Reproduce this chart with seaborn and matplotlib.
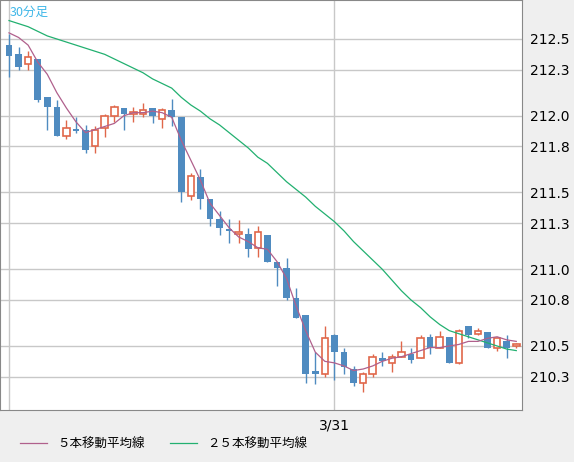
import numpy as np
import pandas as pd
import seaborn as sns
import matplotlib.pyplot as plt
from matplotlib.lines import Line2D

# 30-minute candles
opens = [212.46, 212.40, 212.34, 212.37, 212.12, 212.06, 211.87, 211.91, 211.91, 211.80,
         211.92, 212.00, 212.05, 212.01, 212.01, 212.05, 211.98, 212.04, 211.99, 211.48,
         211.60, 211.46, 211.33, 211.26, 211.23, 211.23, 211.14, 211.22, 211.05, 211.01,
         210.81, 210.70, 210.34, 210.32, 210.57, 210.46, 210.35, 210.26, 210.32, 210.42,
         210.39, 210.43, 210.45, 210.42, 210.56, 210.49, 210.56, 210.39, 210.63, 210.58,
         210.59, 210.49, 210.53, 210.50]
closes = [212.39, 212.32, 212.38, 212.10, 212.06, 211.87, 211.92, 211.90, 211.78, 211.91,
          212.00, 212.06, 212.01, 212.02, 212.04, 212.00, 212.04, 211.99, 211.50, 211.61,
          211.46, 211.33, 211.27, 211.25, 211.24, 211.13, 211.24, 211.05, 211.01, 210.81,
          210.68, 210.32, 210.32, 210.55, 210.46, 210.36, 210.26, 210.32, 210.43, 210.40,
          210.43, 210.46, 210.41, 210.55, 210.49, 210.56, 210.39, 210.60, 210.57, 210.60,
          210.49, 210.55, 210.49, 210.51]
highs = [212.53, 212.45, 212.42, 212.37, 212.12, 212.10, 211.97, 211.99, 211.94, 211.93,
         212.01, 212.07, 212.05, 212.06, 212.08, 212.05, 212.05, 212.11, 211.99, 211.63,
         211.65, 211.46, 211.38, 211.33, 211.32, 211.27, 211.28, 211.22, 211.05, 211.07,
         210.88, 210.70, 210.46, 210.63, 210.58, 210.49, 210.37, 210.33, 210.45, 210.46,
         210.45, 210.53, 210.49, 210.57, 210.58, 210.60, 210.56, 210.61, 210.63, 210.62,
         210.59, 210.55, 210.57, 210.52]
lows = [212.25, 212.30, 212.30, 212.09, 211.91, 211.87, 211.85, 211.89, 211.76, 211.76,
        211.86, 211.96, 211.91, 211.96, 211.99, 211.95, 211.92, 211.93, 211.44, 211.45,
        211.39, 211.28, 211.22, 211.17, 211.17, 211.08, 211.08, 211.05, 210.89, 210.80,
        210.68, 210.26, 210.25, 210.30, 210.28, 210.32, 210.24, 210.20, 210.30, 210.37,
        210.33, 210.43, 210.39, 210.42, 210.45, 210.49, 210.39, 210.38, 210.55, 210.57,
        210.49, 210.47, 210.42, 210.49]
ma5 = [212.54, 212.51, 212.46, 212.35, 212.27, 212.15, 212.05, 211.96, 211.89, 211.91,
       211.93, 211.95, 212.00, 212.02, 212.02, 212.03, 212.02, 211.99, 211.84, 211.71,
       211.58, 211.43, 211.35, 211.27, 211.21, 211.18, 211.14, 211.13, 211.05, 210.94,
       210.76, 210.60, 210.46, 210.40, 210.39, 210.37, 210.34, 210.35, 210.37, 210.40,
       210.42, 210.43, 210.45, 210.47, 210.49, 210.49, 210.50, 210.51, 210.53, 210.53,
       210.55, 210.56, 210.54, 210.53]
ma25 = [212.62, 212.60, 212.58, 212.55, 212.52, 212.50, 212.48, 212.46, 212.44, 212.42,
        212.40, 212.37, 212.34, 212.31, 212.28, 212.24, 212.21, 212.18, 212.12, 212.07,
        212.03, 211.98, 211.94, 211.89, 211.84, 211.79, 211.73, 211.69, 211.63, 211.57,
        211.52, 211.47, 211.41, 211.36, 211.31, 211.25, 211.18, 211.12, 211.06, 211.00,
        210.93, 210.86, 210.80, 210.75, 210.69, 210.64, 210.60, 210.58, 210.56, 210.54,
        210.52, 210.50, 210.48, 210.47]
y_ticks = [210.3, 210.5, 210.8, 211.0, 211.3, 211.5, 211.8, 212.0, 212.3, 212.5]
date_label = "3/31"
date_index = 34

BLUE, RED = "#4f8bc0", "#e0674a"
C_MA5, C_MA25 = "#b0608c", "#22b070"

df = pd.DataFrame({"o": opens, "h": highs, "l": lows, "c": closes, "ma5": ma5, "ma25": ma25})
df["i"] = np.arange(len(df))

plt.rcParams["font.family"] = ["Noto Sans CJK JP", "DejaVu Sans"]
fig = plt.figure(figsize=(5.74, 4.62), dpi=100, facecolor="#efefef")
ax = fig.add_axes([0, 410 / 462 * 0 + 52 / 462, 522 / 574, 410 / 462])
ax.set_facecolor("white")

for v in y_ticks:
    ax.axhline(v, color="#c8c8c8", lw=1, zorder=0)
for xi in [0, date_index]:
    ax.axvline(xi, color="#c8c8c8", lw=1, zorder=0)

up = df["c"] >= df["o"]
for _, r in df.iterrows():
    col = RED if r["c"] >= r["o"] else BLUE
    ax.vlines(r["i"], r["l"], r["h"], color=col, lw=1, zorder=2)
lo = np.minimum(df["o"], df["c"])
hgt = np.maximum(np.abs(df["c"] - df["o"]), 0.012)
ax.bar(df["i"][~up], hgt[~up], bottom=lo[~up], width=0.68, color=BLUE, zorder=3)
ax.bar(df["i"][up], hgt[up], bottom=lo[up], width=0.68, facecolor="white",
       edgecolor=RED, lw=1.2, zorder=3)

sns.lineplot(data=df, x="i", y="ma25", ax=ax, color=C_MA25, lw=0.9, zorder=4)
sns.lineplot(data=df, x="i", y="ma5", ax=ax, color=C_MA5, lw=0.9, zorder=4)

ax.set_xlim(-0.94, 53.6)
ax.set_ylim(210.083, 212.754)
ax.yaxis.tick_right()
ax.set_yticks(y_ticks)
ax.set_yticklabels([f"{v:.1f}" for v in y_ticks], fontsize=10, family="DejaVu Sans")
ax.set_xticks([date_index])
ax.set_xticklabels([date_label], fontsize=10, family="DejaVu Sans")
ax.tick_params(length=0, pad=6)
ax.set_xlabel("")
ax.set_ylabel("")
for s in ax.spines.values():
    s.set_color("#888888")

ax.text(0.018, 0.985, "30分足", transform=ax.transAxes, color="#3fb7e8",
        fontsize=9, va="top", ha="left")

handles = [Line2D([], [], color=C_MA5, lw=0.9), Line2D([], [], color=C_MA25, lw=0.9)]
fig.legend(handles, ["５本移動平均線", "２５本移動平均線"], loc="lower left",
           bbox_to_anchor=(0.015, 0.0), ncol=2, frameon=False, fontsize=9,
           handlelength=2.2, columnspacing=2.0)

fig.savefig("out.png", dpi=100, facecolor=fig.get_facecolor())
